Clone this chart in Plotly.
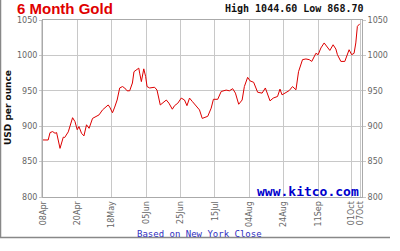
import plotly.graph_objects as go

# ---- data ----
day_index = [0, 3, 4.1, 5.6, 7, 7.9, 9.9, 10.8, 11.8, 12.6, 14.7, 17.2, 18.6, 19.9, 20.9, 22.4,
             23.8, 25.3, 26.8, 28.8, 30.7, 32.6, 34.6, 36.5, 37.9, 38.8, 40.4, 41.7, 43.1, 44.6,
             46.2, 47.5, 48.9, 50.4, 52.0, 52.9, 54.3, 55.7, 56.2, 57.2, 58.6, 59.7, 60.5, 62.0,
             64.9, 66.3, 68.2, 69.7, 71.7, 73.2, 75.2, 76.5, 78.4, 80.4, 82.3, 83.7, 85.2, 86.8,
             88.7, 91.0, 92.6, 95.8, 97.8, 99.1, 101.6, 103.6, 106.5, 108.4, 110.3, 111.9, 113.8,
             115.8, 117.1, 119.0, 120.4, 122.5, 124.8, 127.4, 129.3, 130.6, 132.0, 133.9, 136.4,
             137.8, 139.0, 141.3, 143.2, 145.1, 147.1, 148.6, 150.9, 152.9, 154.8, 156.3, 158.7,
             160.0, 161.6, 163.5, 165.4, 166.8, 168.7, 170.3, 171.2, 173.2, 175.5, 177.0, 178.0,
             179.5, 180.9, 181.9, 182.8, 184.2]
gold_usd = [880.6, 880.5, 891, 892.4, 890, 891, 868.7, 876, 884.5, 884, 892, 912, 906.5, 895,
            899.5, 890, 886.3, 902, 897, 911, 913.6, 916, 923, 927, 930, 927, 919, 927, 937, 954,
            956, 954, 950, 950, 961, 977, 980, 982, 975, 963, 981, 970, 956, 954, 955, 951, 930,
            933.5, 937, 932.6, 924, 929, 932.5, 939.7, 937, 929, 939.7, 935, 929, 923, 911, 914,
            925.5, 938, 938, 949, 951, 950, 953, 946.7, 931, 937, 956, 969, 964, 962, 948, 946.7,
            954, 946, 935.8, 939.7, 942, 952.4, 944.3, 947.6, 950.4, 956, 951.4, 977, 994, 995,
            994, 991.5, 1003, 1001, 1010.5, 1017.6, 1010.5, 1007, 1015, 1009, 1001, 991.5, 991.5,
            1003, 1008, 1001, 1003, 1017.6, 1041, 1044.6]
tick_pos = [0, 20, 40, 60, 80, 100, 120, 140, 160, 179.5, 184.5]
tick_text = ["08Apr", "20Apr", "18May", "05Jun", "25Jun", "15Jul", "04Aug", "24Aug", "11Sep",
             "01Oct", "07Oct"]
y_ticks = [800, 850, 900, 950, 1000, 1050]

# ---- geometry ----
W, H = 400, 251
L, R, T, B = 43, 362, 20, 197


def px(x):
    return (x - L) / (R - L)


def py(y):
    return (B - y) / (B - T)


fig = go.Figure()
fig.add_trace(go.Scatter(x=day_index, y=gold_usd, mode="lines",
                         line=dict(color="#dd0000", width=1), hoverinfo="skip"))
fig.add_trace(go.Scatter(x=[], y=[], yaxis="y2", hoverinfo="skip"))

tickfont = dict(family="DejaVu Sans", size=8, color="#666666")
grid = "#c8c8c8"

fig.update_layout(
    width=W, height=H,
    margin=dict(l=L, r=W - R, t=T, b=H - B, pad=0),
    paper_bgcolor="white", plot_bgcolor="white",
    showlegend=False,
    xaxis=dict(range=[0, 185.5], tickvals=tick_pos, ticktext=tick_text, tickangle=-90,
               tickfont=tickfont, showgrid=True, gridcolor=grid, gridwidth=1,
               showline=True, linecolor="#aaaaaa", mirror=True, zeroline=False,
               ticks="", ticklen=0),
    yaxis=dict(range=[800, 1050], tickvals=y_ticks, tickfont=tickfont,
               showgrid=True, gridcolor=grid, gridwidth=1, zeroline=False,
               showline=True, linecolor="#aaaaaa", mirror=True,
               ticks="outside", ticklen=3, tickcolor=grid),
    yaxis2=dict(range=[800, 1050], tickvals=y_ticks, tickfont=tickfont, overlaying="y",
                side="right", showgrid=False, zeroline=False, showline=False,
                ticks="outside", ticklen=3, tickcolor=grid),
)

ann = [
    dict(text="<b>6 Month Gold</b>", x=px(16), y=py(8.5), xanchor="left", yanchor="middle",
         font=dict(family="Liberation Sans", size=15, color="#e00000")),
    dict(text="<b>High 1044.60 Low 868.70</b>", x=px(224), y=py(8.5), xanchor="left",
         yanchor="middle", font=dict(family="DejaVu Sans Mono", size=10, color="#111111")),
    dict(text="<b>USD per ounce</b>", x=px(8), y=py(108), xanchor="center", yanchor="middle",
         textangle=-90, font=dict(family="DejaVu Sans", size=9, color="#111111")),
    dict(text="Based on New York Close", x=px(136), y=py(234), xanchor="left",
         yanchor="middle", font=dict(family="DejaVu Sans Mono", size=9, color="#3030c0")),
    dict(text="<b>www.kitco.com</b>", x=px(256), y=py(191), xanchor="left", yanchor="middle",
         font=dict(family="DejaVu Sans Mono", size=13, color="#0000cc")),
]
for a in ann:
    a.update(xref="paper", yref="paper", showarrow=False, borderpad=0)
fig.update_layout(annotations=ann)

fig.update_layout(shapes=[
    dict(type="line", xref="paper", yref="paper", x0=px(0.5), x1=px(0.5), y0=py(0), y1=py(237.5),
         line=dict(color="#888888", width=1.5)),
    dict(type="line", xref="paper", yref="paper", x0=px(0), x1=px(390), y0=py(237.5),
         y1=py(237.5), line=dict(color="#888888", width=1.5)),
    dict(type="line", xref="paper", yref="paper", x0=px(42), x1=px(42), y0=0, y1=1,
         line=dict(color="#aaaaaa", width=1)),
])

fig.write_html("out.html")
